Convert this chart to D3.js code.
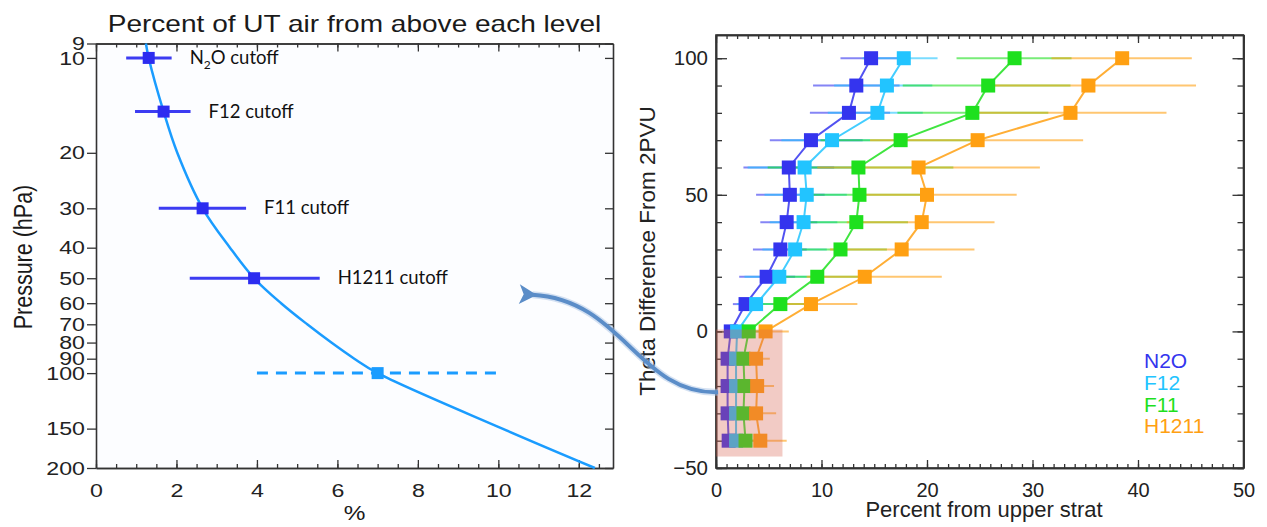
<!DOCTYPE html>
<html>
<head>
<meta charset="utf-8">
<script src="https://cdn.jsdelivr.net/npm/d3@7"></script>
<style>
body { margin: 0; background: #fff; }
svg { display: block; font-family: "Liberation Sans", Arial, sans-serif; }
.axis path, .axis line { stroke: #333; }
.axis path { stroke-width: 1.6; }
.axis line { stroke-width: 1.3; }
.axis text { fill: #222; font-family: "Liberation Sans", Arial, sans-serif; }
</style>
</head>
<body>
<div id="chart"></div>
<script>
// ---- left panel: percent of UT air vs pressure
const pressureLevels = [9, 10, 14.8, 20, 30, 40, 50, 60, 70, 80, 90, 100, 150, 200];
const utPercent = [1.24, 1.31, 1.68, 2.02, 2.65, 3.33, 3.93, 4.6, 5.25, 5.85, 6.42, 7.0, 10.1, 12.4];
const pressureTicks = [9, 10, 20, 30, 40, 50, 60, 70, 80, 90, 100, 150, 200];
const percentTicks = [0, 2, 4, 6, 8, 10, 12];

const cutoffNames = ["N2O", "F12", "F11", "H1211"];
const cutoffP = [10, 14.8, 30, 50];
const cutoffPct = [1.31, 1.68, 2.65, 3.93];
const cutoffLo = [0.75, 0.97, 1.56, 2.33];
const cutoffHi = [1.88, 2.35, 3.73, 5.56];
const refP = 100, refPct = 7.0, refLo = 4, refHi = 10;

// ---- right panel: percent from upper strat vs theta difference
const thetaLevels = [100, 90, 80, 70, 60, 50, 40, 30, 20, 10, 0, -10, -20, -30, -40];
const n2oPct = [14.7, 13.3, 12.6, 9.0, 6.9, 7.0, 6.7, 6.1, 4.8, 2.8, 1.4, 1.1, 1.1, 1.1, 1.2];
const n2oLo = [11.8, 9.2, 8.9, 5.1, 2.6, 3.8, 4.2, 3.5, 2.2, 1.6, 1.0, 0.6, 0.6, 0.6, 0.6];
const n2oHi = [17.5, 17.4, 16.5, 13.9, 11.2, 10.3, 9.6, 8.6, 7.5, 4.4, 2.3, 2.0, 2.0, 2.0, 2.0];
const f12Pct = [17.8, 16.2, 15.3, 11.0, 8.4, 8.6, 8.3, 7.5, 6.0, 3.8, 2.0, 1.9, 1.9, 1.9, 1.9];
const f12Lo = [13.9, 11.2, 10.6, 6.2, 3.0, 4.6, 5.1, 4.4, 2.7, 2.0, 1.4, 1.0, 1.0, 1.0, 1.0];
const f12Hi = [21.0, 20.5, 19.6, 14.6, 13.6, 12.4, 11.5, 10.5, 8.6, 6.1, 2.6, 3.0, 3.0, 3.0, 3.0];
const f11Pct = [28.3, 25.8, 24.3, 17.5, 13.5, 13.6, 13.3, 11.8, 9.6, 6.1, 3.1, 2.6, 2.7, 2.6, 2.8];
const f11Lo = [22.8, 17.7, 17.2, 9.9, 4.9, 8.0, 8.3, 7.0, 5.3, 3.5, 2.0, 1.8, 1.8, 1.8, 1.8];
const f11Hi = [33.7, 33.6, 31.5, 25.0, 22.5, 19.6, 18.2, 16.2, 14.6, 8.9, 4.5, 4.0, 4.2, 4.2, 4.4];
const h1211Pct = [38.5, 35.3, 33.6, 24.8, 19.2, 20.0, 19.5, 17.6, 14.1, 9.0, 4.7, 3.8, 3.9, 3.8, 4.2];
const h1211Lo = [31.8, 25.3, 24.4, 14.6, 9.6, 13.4, 12.4, 10.8, 8.6, 5.4, 2.9, 2.4, 2.4, 2.4, 2.6];
const h1211Hi = [45.1, 45.5, 42.7, 34.8, 30.7, 28.5, 26.4, 24.5, 21.4, 13.4, 6.9, 5.1, 5.5, 5.7, 6.7];

const seriesNames = ["N2O", "F12", "F11", "H1211"];
const seriesColors = ["#3434ee", "#22c4ff", "#1ee01e", "#ffa012"];
const thetaTicks = [-50, 0, 50, 100];
const stratTicks = [0, 10, 20, 30, 40, 50];
const boxPct = [0, 6.3], boxTheta = [-45.8, 0.7];

const W = 1267, H = 527;
const SX = 1.22; // left figure is stretched sideways

const svg = d3.select("#chart").append("svg")
	.attr("width", W)
	.attr("height", H);

const defs = svg.append("defs");
defs.append("marker")
	.attr("id", "arrowHead")
	.attr("markerUnits", "userSpaceOnUse")
	.attr("viewBox", "0 0 20 20")
	.attr("refX", 4).attr("refY", 10)
	.attr("markerWidth", 22).attr("markerHeight", 22)
	.attr("orient", "auto-start-reverse")
	.append("path")
		.attr("d", "M0,10 L16,1 L12,10 L16,19 Z")
		.attr("fill", "#5b8dc8");

// =========== LEFT PANEL
const xL = d3.scaleLinear().domain([0, 12.85]).range([96, 613]);
const yL = d3.scaleLog().domain([9, 200]).range([43.5, 468]);

const left = svg.append("g");

left.append("rect")
	.attr("x", xL(0)).attr("y", yL(9))
	.attr("width", xL(12.85) - xL(0)).attr("height", yL(200) - yL(9))
	.attr("fill", "#fcfdff");

// minor x ticks
left.append("g").attr("class", "axis")
	.attr("transform", `translate(0, ${yL(200)})`)
	.call(d3.axisBottom(xL).tickValues(d3.range(0, 12.9, 0.5)).tickSize(-4).tickSizeOuter(0).tickFormat(""));
left.append("g").attr("class", "axis")
	.attr("transform", `translate(0, ${yL(9)})`)
	.call(d3.axisTop(xL).tickValues(d3.range(0, 12.9, 0.5)).tickSize(-4).tickSizeOuter(0).tickFormat(""));

const xAxisL = left.append("g").attr("class", "axis")
	.attr("transform", `translate(0, ${yL(200)})`)
	.call(d3.axisBottom(xL).tickValues(percentTicks).tickSize(-8).tickSizeOuter(0).tickPadding(16));
xAxisL.selectAll("text")
	.attr("font-size", 19)
	.attr("transform", `scale(${SX},1)`);

left.append("g").attr("class", "axis")
	.attr("transform", `translate(0, ${yL(9)})`)
	.call(d3.axisTop(xL).tickValues(percentTicks).tickSize(-8).tickSizeOuter(0).tickFormat(""));

const yAxisL = left.append("g").attr("class", "axis")
	.attr("transform", `translate(${xL(0)}, 0)`)
	.call(d3.axisLeft(yL).tickValues(pressureTicks).tickSize(9).tickSizeOuter(0).tickPadding(2).tickFormat(d3.format("d")));
yAxisL.selectAll("text")
	.attr("font-size", 19)
	.attr("x", -11 / SX)
	.attr("transform", `scale(${SX},1)`);

left.append("g").attr("class", "axis")
	.attr("transform", `translate(${xL(12.85)}, 0)`)
	.call(d3.axisRight(yL).tickValues(pressureTicks).tickSize(-8).tickSizeOuter(0).tickFormat(""));

function stretched(g, x, y, txt, size, rotate) {
	return g.append("g")
		.attr("transform", `translate(${x}, ${y}) scale(${SX},1)` + (rotate ? " rotate(-90)" : ""))
		.append("text")
			.attr("text-anchor", "middle")
			.attr("font-size", size)
			.attr("fill", "#1a1a1a")
			.text(txt);
}

stretched(left, (xL(0) + xL(12.85)) / 2, 32, "Percent of UT air from above each level", 23);
stretched(left, (xL(0) + xL(12.85)) / 2, 520, "%", 20);
stretched(left, 32, 257, "Pressure (hPa)", 21.5, true);

// the UT curve
const curveLine = d3.line()
	.x((d, i) => xL(utPercent[i]))
	.y(d => yL(d))
	.curve(d3.curveCatmullRom);

left.append("path")
	.datum(pressureLevels)
	.attr("d", curveLine)
	.attr("fill", "none")
	.attr("stroke", "#1a9cff")
	.attr("stroke-width", 2.5);

// 100 hPa reference, dashed
left.append("line")
	.attr("x1", xL(refLo)).attr("x2", xL(refHi))
	.attr("y1", yL(refP)).attr("y2", yL(refP))
	.attr("stroke", "#1a9cff")
	.attr("stroke-width", 3)
	.attr("stroke-dasharray", "11,8");
left.append("rect")
	.attr("x", xL(refPct) - 6).attr("y", yL(refP) - 6)
	.attr("width", 12).attr("height", 12)
	.attr("fill", "#1a9cff");

// cutoff bars
const cut = left.selectAll(".cut")
	.data(cutoffNames)
	.enter().append("g");

cut.append("line")
	.attr("x1", (d, i) => xL(cutoffLo[i]))
	.attr("x2", (d, i) => xL(cutoffHi[i]))
	.attr("y1", (d, i) => yL(cutoffP[i]))
	.attr("y2", (d, i) => yL(cutoffP[i]))
	.attr("stroke", "#3c3cf2")
	.attr("stroke-width", 3);

cut.append("rect")
	.attr("x", (d, i) => xL(cutoffPct[i]) - 6)
	.attr("y", (d, i) => yL(cutoffP[i]) - 6)
	.attr("width", 12).attr("height", 12)
	.attr("fill", "#2c2cf0");

const cutText = cut.append("text")
	.attr("x", (d, i) => xL(cutoffHi[i]) + 18)
	.attr("y", (d, i) => yL(cutoffP[i]) + 6)
	.attr("font-family", "Lato, 'Open Sans', sans-serif")
	.attr("font-size", 18.5)
	.attr("fill", "#111");

cutText.each(function(d) {
	const t = d3.select(this);
	if (d === "N2O") {
		t.append("tspan").text("N");
		t.append("tspan").attr("font-size", 12).attr("dy", 5).text("2");
		t.append("tspan").attr("dy", -5).text("O cutoff");
	} else {
		t.text(d + " cutoff");
	}
});

// =========== RIGHT PANEL
const xR = d3.scaleLinear().domain([0, 50]).range([716, 1243.5]);
const yR = d3.scaleLinear().domain([-50, 108.5]).range([468, 35]);

const right = svg.append("g");

right.append("g").attr("class", "axis")
	.attr("transform", `translate(0, ${yR(-50)})`)
	.call(d3.axisBottom(xR).tickValues(d3.range(0, 51, 1)).tickSize(-4).tickSizeOuter(0).tickFormat(""));
right.append("g").attr("class", "axis")
	.attr("transform", `translate(0, ${yR(108.5)})`)
	.call(d3.axisTop(xR).tickValues(d3.range(0, 51, 1)).tickSize(-4).tickSizeOuter(0).tickFormat(""));

right.append("g").attr("class", "axis")
	.attr("transform", `translate(0, ${yR(-50)})`)
	.call(d3.axisBottom(xR).tickValues(stratTicks).tickSize(-8).tickSizeOuter(0).tickPadding(15))
	.selectAll("text").attr("font-size", 20);
right.append("g").attr("class", "axis")
	.attr("transform", `translate(0, ${yR(108.5)})`)
	.call(d3.axisTop(xR).tickValues(stratTicks).tickSize(-8).tickSizeOuter(0).tickFormat(""));

right.append("g").attr("class", "axis")
	.attr("transform", `translate(${xR(0)}, 0)`)
	.call(d3.axisLeft(yR).tickValues(d3.range(-50, 101, 10)).tickSize(-6).tickSizeOuter(0).tickFormat(""));
right.append("g").attr("class", "axis")
	.attr("transform", `translate(${xR(0)}, 0)`)
	.call(d3.axisLeft(yR).tickValues(thetaTicks).tickSize(-11).tickSizeOuter(0).tickPadding(8))
	.selectAll("text").attr("font-size", 20.5);

right.append("g").attr("class", "axis")
	.attr("transform", `translate(${xR(50)}, 0)`)
	.call(d3.axisRight(yR).tickValues(d3.range(-50, 101, 10)).tickSize(-6).tickSizeOuter(0).tickFormat(""));
right.append("g").attr("class", "axis")
	.attr("transform", `translate(${xR(50)}, 0)`)
	.call(d3.axisRight(yR).tickValues(thetaTicks).tickSize(-11).tickSizeOuter(0).tickFormat(""));

right.append("rect")
	.attr("x", xR(0)).attr("y", yR(108.5))
	.attr("width", xR(50) - xR(0)).attr("height", yR(-50) - yR(108.5))
	.attr("fill", "none").attr("stroke", "#333").attr("stroke-width", 1.6);

right.append("text")
	.attr("transform", `translate(655, 251) rotate(-90)`)
	.attr("text-anchor", "middle")
	.attr("font-size", 22.5)
	.attr("fill", "#222")
	.text("Theta Difference From 2PVU");

right.append("text")
	.attr("x", 984).attr("y", 517)
	.attr("text-anchor", "middle")
	.attr("font-size", 22)
	.attr("fill", "#222")
	.text("Percent from upper strat");

const seriesData = [
	{ name: "N2O", pct: n2oPct, lo: n2oLo, hi: n2oHi },
	{ name: "F12", pct: f12Pct, lo: f12Lo, hi: f12Hi },
	{ name: "F11", pct: f11Pct, lo: f11Lo, hi: f11Hi },
	{ name: "H1211", pct: h1211Pct, lo: h1211Lo, hi: h1211Hi },
];

// error bars
seriesData.forEach((s, k) => {
	right.append("g").selectAll("line")
		.data(thetaLevels)
		.enter().append("line")
			.attr("x1", (d, i) => xR(s.lo[i]))
			.attr("x2", (d, i) => xR(s.hi[i]))
			.attr("y1", d => yR(d))
			.attr("y2", d => yR(d))
			.attr("stroke", seriesColors[k])
			.attr("stroke-opacity", 0.6)
			.attr("stroke-width", 2);
});

const profile = d3.line()
	.x(d => xR(d[0]))
	.y(d => yR(d[1]));

seriesData.forEach((s, k) => {
	right.append("path")
		.datum(thetaLevels.map((t, i) => [s.pct[i], t]))
		.attr("d", profile)
		.attr("fill", "none")
		.attr("stroke", seriesColors[k])
		.attr("stroke-opacity", 0.85)
		.attr("stroke-width", 2);
});

seriesData.forEach((s, k) => {
	right.append("g").selectAll("rect")
		.data(thetaLevels)
		.enter().append("rect")
			.attr("x", (d, i) => xR(s.pct[i]) - 7)
			.attr("y", d => yR(d) - 7)
			.attr("width", 14).attr("height", 14)
			.attr("fill", seriesColors[k]);
});

// shaded box near the tropopause
right.append("rect")
	.attr("x", xR(boxPct[0])).attr("y", yR(boxTheta[1]))
	.attr("width", xR(boxPct[1]) - xR(boxPct[0]))
	.attr("height", yR(boxTheta[0]) - yR(boxTheta[1]))
	.attr("fill", "#d9604f")
	.attr("fill-opacity", 0.33);

// legend
right.append("g").selectAll("text")
	.data(seriesNames)
	.enter().append("text")
		.attr("x", 1144)
		.attr("y", (d, i) => 368 + i * 21.8)
		.attr("font-size", 21)
		.attr("fill", (d, i) => seriesColors[i])
		.text(d => d);

// =========== ARROW linking the box to the left panel
const aStart = [xR(0.2), yR(-22.3)];
const aEnd = [xL(10.6), yL(56)];
const arrowPath = `M${aStart[0]},${aStart[1]} C${aStart[0] - 80},${aStart[1] + 2} ${aStart[0] - 95},${aEnd[1] + 6} ${aEnd[0] + 10},${aEnd[1] + 1}`;
svg.append("path")
	.attr("d", arrowPath)
	.attr("fill", "none")
	.attr("stroke", "#a9c4e6")
	.attr("stroke-width", 7)
	.attr("stroke-opacity", 0.5);
svg.append("path")
	.attr("d", arrowPath)
	.attr("fill", "none")
	.attr("stroke", "#5b8dc8")
	.attr("stroke-width", 4)
	.attr("marker-end", "url(#arrowHead)");
</script>
</body>
</html>
